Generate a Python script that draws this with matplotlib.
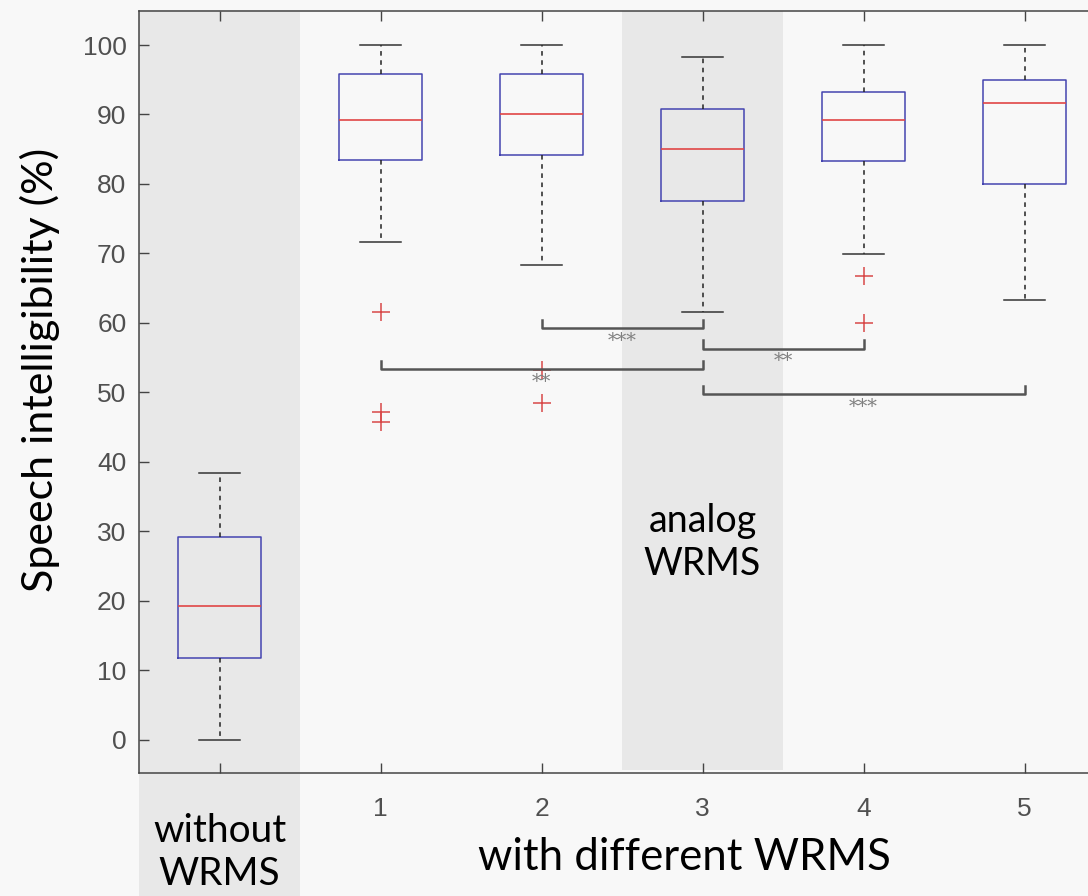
import numpy as np
import matplotlib.pyplot as plt
from matplotlib.patches import Rectangle

# box statistics
positions = [0, 1, 2, 3, 4, 5]
tick_labels = ['', '1', '2', '3', '4', '5']
whislo = [0.0, 71.7, 68.3, 61.6, 69.9, 63.3]
q1 = [11.7, 83.4, 84.2, 77.6, 83.3, 80.0]
med = [19.2, 89.2, 90.0, 85.0, 89.2, 91.7]
q3 = [29.2, 95.8, 95.8, 90.8, 93.3, 95.0]
whishi = [38.4, 100.0, 100.0, 98.3, 100.0, 100.0]
fliers = [[], [61.6, 47.2, 45.8], [53.2, 48.4], [], [66.7, 60.0], []]

# significance brackets
sig_pairs = [(2, 3), (3, 4), (1, 3), (3, 5)]
sig_heights = [59.2, 56.3, 53.3, 49.7]
sig_labels = ['***', '**', '**', '***']

bg = '#f8f8f8'
band = '#e8e8e8'

fig = plt.figure(figsize=(10.88, 8.96), dpi=100, facecolor=bg)
ax = fig.add_axes([139/1088, 1-773/896, 966/1088, 762/896])
ax.set_facecolor(bg)

stats = []
for i in range(len(positions)):
    stats.append(dict(whislo=whislo[i], q1=q1[i], med=med[i], q3=q3[i],
                      whishi=whishi[i], fliers=fliers[i]))

# shaded columns
ax.add_patch(Rectangle((-0.5, -23), 1, 128, facecolor=band, edgecolor='none',
                       clip_on=False, zorder=0))
ax.add_patch(Rectangle((2.5, -4.3), 1, 109.3, facecolor=band, edgecolor='none',
                       zorder=0))

ax.bxp(stats, positions=positions, widths=0.51, showfliers=True,
       boxprops=dict(color='#4444b0', lw=1.1),
       medianprops=dict(color='#e04646', lw=1.2),
       whiskerprops=dict(color='#222222', lw=1.1, linestyle=(0, (3, 3))),
       capprops=dict(color='#333333', lw=1.1),
       capwidths=0.25,
       flierprops=dict(marker='+', markersize=13, markeredgecolor='#d84848',
                       markeredgewidth=1.1))

for (a, b), h, lab in zip(sig_pairs, sig_heights, sig_labels):
    ax.plot([a, a, b, b], [h + 1.2, h, h, h + 1.2], color='#555555', lw=1.8,
            zorder=3)
    ax.text((a + b) / 2, h - 1.8, lab, ha='center', va='center',
            fontsize=14, color='#808080', family='DejaVu Serif')

ax.set_xlim(-0.5, 5.5)
ax.set_ylim(-4.8, 104.9)
ax.set_xticks(positions)
ax.set_xticklabels(tick_labels)
ax.set_yticks(np.arange(0, 101, 10))
ax.tick_params(direction='in', top=True, right=True, length=7, width=1,
               color='#444444', labelsize=19, labelcolor='#505050')
ax.tick_params(axis='x', pad=17)
ax.tick_params(axis='y', pad=9)
for lbl in ax.get_xticklabels() + ax.get_yticklabels():
    lbl.set_family('Liberation Sans')
for s in ['top', 'bottom', 'left']:
    ax.spines[s].set_color('#444444')
    ax.spines[s].set_linewidth(1.1)
ax.spines['right'].set_visible(False)

fig.text(40/1088, 1-370/896, 'Speech intelligibility (%)', rotation=90,
         ha='center', va='center', fontsize=31, family='Lato')
ax.text(0, -20.9, 'without\nWRMS', ha='center', va='baseline', fontsize=28,
        family='Lato', linespacing=1.25)
ax.text(2.89, -18.7, 'with different WRMS', ha='center', va='baseline',
        fontsize=31.5, family='Lato')
ax.text(3, 23.7, 'analog\nWRMS', ha='center', va='baseline', fontsize=27,
        family='Lato', linespacing=1.25)

fig.savefig('out.png', dpi=100, facecolor=bg)
